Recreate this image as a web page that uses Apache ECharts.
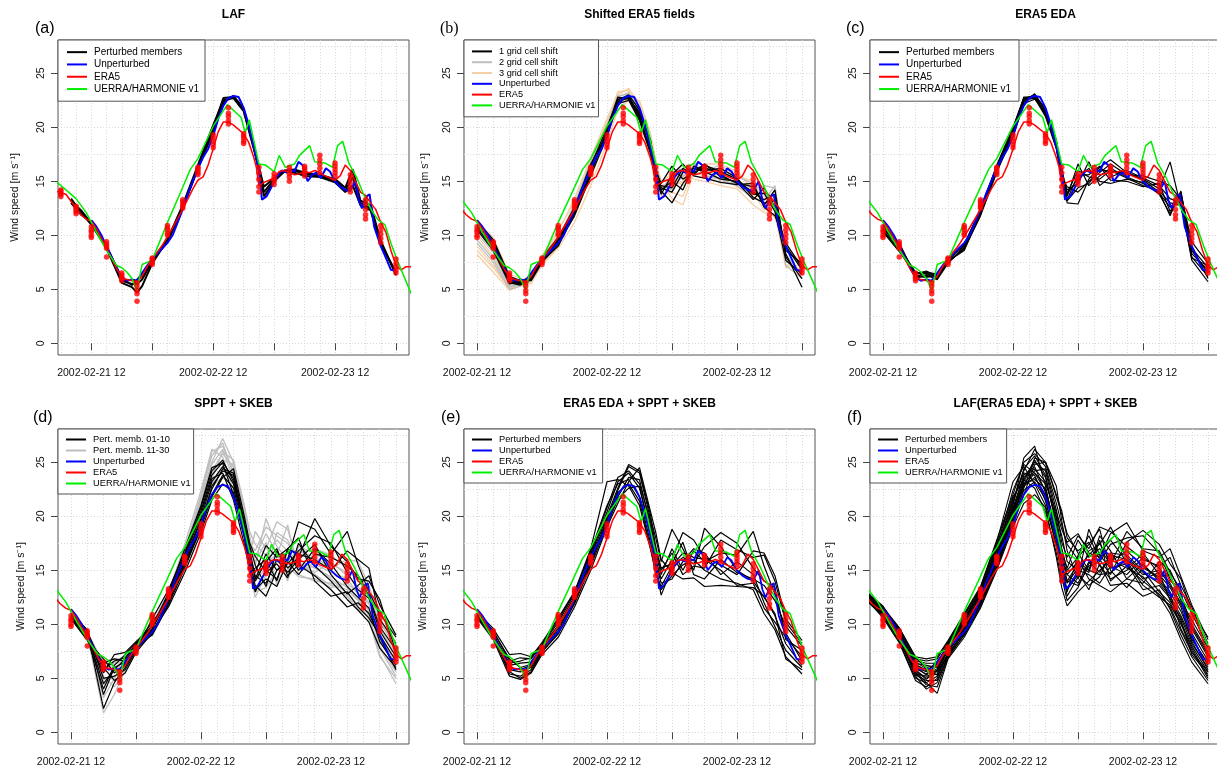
<!DOCTYPE html>
<html><head><meta charset="utf-8">
<script src="https://cdn.jsdelivr.net/npm/echarts@6/dist/echarts.min.js"></script>
<style>html,body{margin:0;padding:0;background:#fff}#c{width:1217px;height:769px}</style>
</head><body><div id="c"></div>
<script>
// ---------- DATA (hours since 2002-02-21 00 UTC, wind speed m/s) ----------
const xTickValues = [12, 24, 36, 48, 60, 72];
const xLabelValues = [12, 36, 60];
const xLabelTexts = ['2002-02-21 12', '2002-02-22 12', '2002-02-23 12'];
const xGridValues = [6, 9, 12, 15, 18, 21, 24, 27, 30, 33, 36, 39, 42, 45, 48, 51, 54, 57, 60, 63, 66, 69, 72];
const yTickValues = [0, 5, 10, 15, 20, 25];
const yGridValues = [0, 2.5, 5, 7.5, 10, 12.5, 15, 17.5, 20, 22.5, 25, 27.5];

const era5T = [5,7,9,10,11,12,13,15,17,18,19,21,22,23,24,26,28,30,32,33,34,35,36,37,38,39,40,42,43,44,44.5,45,46,47,48,49,50,51,52,53,54,55,56,57,58,59,60,61,62,63,64,65,66,67,68,69,70,71,72,73,74,75];
const era5V = [14.1,13.8,12.5,11.9,11.5,11.3,10.6,8.8,6.9,6.1,5.9,5.7,6.2,7.1,7.8,9.1,10.7,12.4,14.3,15.1,15.4,16.5,18.0,19.6,20.5,20.5,20.2,19.4,18.6,17.2,16.3,14.6,14.9,15.1,15.3,15.9,16.0,15.8,15.6,15.7,15.9,15.8,16.0,15.8,15.5,15.3,15.1,15.5,16.5,16.0,15.0,14.0,13.7,13.0,12.4,11.2,10.3,8.6,7.2,6.8,7.1,7.1];

const uerraT = [5,9,11,13,15,17,18,19,20,21,22,24,27,29.5,31.5,33,36,38.8,41.5,42.3,43.1,45,46.3,48,49,50.2,52,53,55,56,58,59.5,60.5,61.5,62.7,64.3,65.8,67.2,68.5,69.8,71.2,72.5,75];
const uerraV = [15.0,13.4,12.1,10.3,8.6,7.2,7.0,6.6,6.0,4.9,7.3,7.7,11.2,13.9,16.1,17.1,20.1,22.1,20.9,19.5,20.7,16.6,16.5,15.9,17.4,16.3,16.6,17.4,18.3,16.8,16.7,16.3,18.3,18.7,16.7,15.3,13.6,12.3,11.4,11.0,9.0,7.4,4.6];

const blueT = [12,13,14,15,16,17,18,19,20,21,22,23,24,25,26,27,28,29,30,31,32,33,34,35,36,37,38,39,40,41,42,43,44,45,45.6,46.5,47.5,48.5,49.5,50.5,51.2,52,52.8,53.6,54.6,55.5,56.3,57.2,58.2,59,60,61,62,63,64,64.7,65.3,66.2,66.8,67.7,69,70.2,71,72];
const blueV = [11.4,10.8,10.0,9.0,8.0,7.0,6.1,5.8,5.9,5.8,6.5,7.2,7.8,8.3,8.8,9.3,10.0,11.2,12.4,13.8,15.0,16.2,17.2,18.0,19.2,20.8,22.0,22.7,22.9,22.8,21.8,20.2,18.2,16.0,13.3,13.6,14.5,15.4,16.0,15.8,16.1,15.9,16.8,16.5,15.0,15.6,15.8,15.3,16.2,15.9,15.0,14.5,14.2,14.1,15.0,13.2,12.5,13.6,13.8,10.8,9.0,7.7,6.8,6.7];

// ERA5 ensemble (red dots), 3-hourly
const dotT = [6,9,12,15,18,21,24,27,30,33,36,39,42,45,48,51,54,57,60,63,66,69,72];
const dotV = [
 [13.6,13.8,13.9,14.1,14.2],[12.0,12.2,12.4,12.6,12.7],[9.8,10.0,10.3,10.5,10.8],[8.0,8.8,9.0,9.2,9.4],
 [5.8,6.0,6.1,6.3,6.5],[3.9,4.6,4.9,5.3,5.6],[7.3,7.5,7.6,7.8,7.9],[10.0,10.2,10.5,10.7,10.9],
 [12.5,12.7,12.9,13.1,13.3],[15.6,15.8,16.0,16.2,16.3],[18.1,18.4,18.7,19.0,19.3],[20.3,20.6,21.0,21.3,21.8],
 [18.5,18.7,19.0,19.2,19.4],[14.0,14.5,15.2,15.8,16.3],[14.7,15.0,15.2,15.4,15.7],[15.0,15.4,15.7,16.0,16.3],
 [15.5,15.8,16.0,16.2,16.4],[15.8,16.2,16.6,17.0,17.4],[15.5,15.8,16.1,16.4,16.7],[14.0,14.4,14.8,15.2,15.6],
 [11.5,11.9,12.4,12.9,13.3],[9.3,9.7,10.1,10.5,10.9],[6.5,6.8,7.1,7.4,7.8]
];

// member time grids
const timesA = [8,10,12,15,18,20,21,22,24,27,30,33,36,38,40,42,44,45,46,48,50,52,54,57,60,62,63.5,65,67,69,72];
const timesM = [12,15,18,20,22,24,27,30,33,36,38,40,42,44,45,46,48,50,52,54,57,60,63,65,67,69,72];
const timesF = [9,12,15,18,20,22,24,27,30,33,36,38,40,42,44,45,46,48,50,52,54,57,60,63,65,67,69,72];

// (a) LAF perturbed members
const lafMembers = [
 [13.4,12.1,11.0,8.8,5.6,5.2,4.7,5.3,7.4,9.6,12.8,16.5,20.2,22.5,22.7,21.5,18.0,16.3,14.5,15.3,16.0,16.1,15.8,15.6,15.2,14.4,16.1,13.2,12.8,9.5,6.3],
 [13.2,12.3,11.1,8.9,5.8,5.5,5.5,5.9,7.6,9.5,12.6,16.3,19.9,22.7,22.8,21.6,18.1,16.1,14.0,15.2,15.9,16.0,15.7,15.5,15.1,14.1,15.4,13.0,12.5,9.3,6.5],
 [13.0,11.9,11.2,9.0,6.0,5.4,5.9,6.2,7.7,9.4,12.5,16.2,19.6,22.3,22.9,21.7,18.3,16.0,13.6,15.0,15.9,15.8,15.5,15.4,14.9,14.0,14.6,12.8,12.3,9.1,6.6]
];
// (b) shifted ERA5 fields
const shift1 = [
 [11.2,9.4,6.0,5.6,6.0,7.7,9.5,12.2,16.0,19.6,22.6,22.8,21.2,18.6,16.2,14.4,14.0,15.8,16.2,15.9,15.2,15.0,14.0,13.3,13.8,8.3,5.2],
 [11.0,9.0,5.7,5.5,5.9,7.6,9.4,12.0,15.7,19.8,22.8,22.6,21.4,18.9,16.0,14.8,16.4,15.2,15.8,16.3,15.6,14.8,14.5,12.8,14.2,8.0,6.0],
 [10.7,8.8,5.6,5.4,6.1,7.8,9.6,12.4,16.4,20.0,22.5,23.0,21.6,18.4,15.6,14.1,13.0,14.8,16.0,16.5,15.9,15.2,13.8,13.9,12.2,7.7,6.4],
 [10.5,8.6,5.5,5.7,6.2,7.9,9.8,12.6,16.6,19.4,22.3,22.9,21.0,18.0,15.4,13.8,15.6,16.6,15.5,15.3,14.9,14.7,14.8,12.6,11.8,9.3,7.0],
 [11.3,9.6,6.2,5.8,5.8,7.5,9.2,11.8,15.5,19.2,22.2,22.5,20.6,17.6,15.0,14.2,15.0,14.2,16.4,16.0,16.2,15.3,13.5,13.0,13.2,8.6,7.4],
 [10.9,9.2,5.9,5.5,6.0,7.6,9.0,12.1,15.9,19.5,22.4,22.7,20.8,17.8,15.2,14.6,14.4,16.2,15.6,16.6,15.4,14.9,13.3,14.4,12.6,9.0,6.8]
];
const shift2 = [
 [10.2,8.4,5.3,5.4,5.9,7.6,9.6,12.7,16.5,20.1,22.9,23.1,21.9,18.8,16.4,15.0,15.2,15.4,16.4,16.2,15.8,15.1,14.3,14.6,14.4,8.2,6.4],
 [9.6,7.8,5.2,5.5,6.0,7.7,9.7,12.9,16.8,20.2,22.8,23.2,21.4,18.5,16.0,14.4,14.8,15.9,16.7,15.5,15.2,14.6,13.4,13.2,14.6,7.2,6.0],
 [10.6,8.9,5.6,5.6,6.3,7.9,9.9,12.3,16.0,19.4,22.2,22.8,21.0,17.9,15.5,14.2,15.6,16.0,15.6,16.0,16.5,15.4,14.8,12.7,12.9,9.0,7.1],
 [9.3,7.5,5.0,5.3,5.8,7.4,9.3,12.5,16.3,19.9,22.6,23.0,21.6,18.3,15.8,14.6,14.2,15.5,16.2,16.4,15.0,14.8,13.8,13.8,13.5,7.6,6.6]
];
const shift3 = [
 [8.2,6.6,4.9,5.3,5.6,7.2,9.0,12.9,17.0,20.6,23.2,23.5,22.3,19.3,16.8,15.0,13.4,12.8,15.8,16.6,16.6,15.9,14.3,14.2,13.0,7.3,6.8],
 [9.0,7.2,5.0,5.6,6.0,7.3,8.8,11.2,14.6,18.6,21.6,22.5,22.5,19.5,17.0,14.8,15.8,16.2,15.2,15.0,14.6,14.3,12.8,12.1,12.0,7.0,7.3],
 [11.3,9.8,6.4,6.0,5.5,7.8,10.3,13.4,17.2,20.8,23.0,23.6,21.8,18.7,16.5,13.6,14.5,15.0,16.5,16.2,16.0,15.5,15.0,13.0,11.6,8.8,7.5],
 [10.0,8.0,5.4,5.8,6.3,8.1,10.5,13.1,16.8,20.4,23.3,23.4,20.0,17.0,14.6,13.8,14.0,13.6,16.0,15.4,15.3,14.5,13.6,13.6,12.5,8.0,6.5],
 [8.6,7.0,5.1,5.5,5.8,7.4,9.2,12.0,15.4,19.0,22.0,22.9,21.2,18.0,15.6,14.3,15.3,14.6,16.8,15.8,14.8,16.0,14.0,12.3,13.4,9.0,7.0]
];
// (c) ERA5 EDA members
const edaMembers = [
 [10.8,8.8,6.2,6.5,6.0,7.5,8.8,12.0,16.0,19.5,22.4,23.0,21.5,18.6,15.5,13.0,12.9,15.2,16.3,17.0,15.8,15.1,14.0,11.8,14.1,8.3,6.8],
 [10.5,8.6,6.4,6.7,6.2,7.6,8.7,11.8,15.8,19.8,22.6,22.8,21.3,18.4,15.2,13.6,16.6,14.6,15.5,16.2,15.4,14.8,13.9,12.6,13.6,8.0,6.2],
 [10.2,8.9,6.6,6.4,5.9,7.4,8.9,12.2,16.2,19.3,22.3,23.1,21.6,18.8,15.8,14.2,14.8,16.8,14.6,15.4,16.0,15.3,14.6,13.4,13.0,7.7,5.7],
 [10.9,9.2,6.3,6.2,6.1,7.7,9.0,12.4,16.5,20.0,22.7,22.9,21.2,18.1,15.0,13.3,15.6,15.6,16.4,15.1,15.0,14.5,14.8,12.2,13.8,9.4,7.4],
 [10.4,8.7,6.5,6.6,6.4,7.8,9.1,12.5,16.4,19.6,22.5,22.7,21.0,18.0,15.4,14.5,14.0,15.0,15.8,16.6,15.6,15.5,15.0,14.6,13.3,8.6,6.5],
 [10.6,9.0,6.0,6.3,6.0,7.6,8.6,12.1,15.9,19.1,22.2,22.6,21.4,18.5,16.2,13.8,15.3,16.2,15.0,14.8,15.2,14.9,13.8,12.0,14.0,8.8,7.0],
 [11.0,9.3,6.2,6.1,6.3,7.9,9.2,12.3,16.1,19.4,22.6,23.0,21.7,18.7,15.6,13.2,14.4,14.8,16.1,15.9,15.8,15.2,14.3,16.8,12.6,9.0,6.0],
 [10.3,8.5,6.4,6.6,6.1,7.5,8.8,11.9,16.3,19.9,22.8,22.8,21.1,18.3,15.3,13.9,16.0,15.4,15.2,16.0,15.3,14.6,14.1,13.0,12.8,7.9,7.2]
];
// (d) SPPT + SKEB members 01-10 and 11-30
const spptA = [
 [11.3,9.4,2.2,4.6,6.0,7.8,9.5,12.8,16.4,20.5,23.8,25.0,23.5,19.0,16.5,14.2,16.5,15.0,16.0,19.5,18.8,16.5,18.6,15.5,13.0,11.0,8.8],
 [11.0,9.0,4.5,5.8,6.8,8.2,10.2,12.2,15.8,19.6,22.5,24.4,24.0,19.4,17.2,15.5,13.5,16.8,15.2,16.2,19.8,17.2,15.8,14.2,14.0,12.3,7.4],
 [10.8,8.8,5.5,7.2,7.4,8.4,9.8,12.9,17.0,21.0,24.5,24.9,22.0,18.2,15.4,13.0,15.0,14.2,16.8,15.0,17.0,15.6,13.5,12.5,11.5,8.4,6.2],
 [10.6,8.6,6.4,6.8,6.6,8.0,9.0,11.8,15.2,18.9,21.8,23.6,24.4,20.0,17.5,16.3,14.8,15.6,14.3,17.5,15.4,14.0,12.3,11.3,10.2,7.8,6.0],
 [11.2,9.2,5.0,5.2,5.8,7.6,10.5,13.2,16.6,20.8,24.2,25.2,23.2,19.2,16.0,14.8,17.3,16.2,17.0,16.5,16.0,15.0,16.8,16.0,15.2,10.5,8.2],
 [10.9,9.3,6.0,4.8,5.5,7.4,9.2,12.0,15.6,19.2,22.0,23.8,22.6,18.6,15.8,13.6,12.6,15.0,15.6,16.8,18.2,17.5,14.8,13.2,12.4,9.4,7.0],
 [10.7,8.7,4.0,6.2,7.2,8.3,9.6,12.4,16.0,19.8,23.2,24.6,23.0,18.9,15.2,14.0,15.8,17.0,14.5,15.5,14.5,13.2,11.6,12.0,11.0,8.8,5.8],
 [11.1,9.1,5.8,6.6,6.9,8.1,9.9,12.6,16.2,20.2,23.5,24.0,21.5,17.4,15.0,13.2,14.2,13.5,15.8,14.6,16.5,16.2,15.4,14.5,12.6,9.8,7.6],
 [10.5,8.5,6.8,5.5,6.3,7.9,9.4,11.6,14.8,18.5,21.5,23.0,22.2,18.0,14.8,15.2,16.0,14.0,17.0,18.0,14.0,12.6,13.0,11.6,10.6,9.0,6.6],
 [11.0,9.5,3.5,6.0,6.5,7.7,9.1,12.3,15.4,19.0,22.8,24.2,23.8,19.5,16.8,14.5,13.8,16.0,14.8,16.0,17.4,14.6,12.8,13.6,14.5,11.8,9.0]
];
const spptB = [
 [11.2,9.0,1.8,3.5,5.8,7.6,9.4,12.4,16.4,21.5,25.0,27.2,25.0,20.3,17.5,16.8,19.0,18.2,17.5,16.0,15.2,14.4,13.4,12.4,10.8,7.2,4.5],
 [10.9,8.8,4.8,5.6,6.4,8.0,9.8,12.8,16.8,22.0,26.0,26.5,24.2,19.6,16.4,18.6,17.0,19.5,18.8,15.5,14.8,15.8,14.5,13.5,12.0,8.6,5.8],
 [10.6,9.2,5.6,6.6,7.0,8.2,10.0,13.0,17.2,21.0,24.2,25.8,24.6,20.8,18.2,15.4,19.8,17.2,16.0,16.8,16.2,15.2,16.0,15.8,13.6,10.4,7.5],
 [11.0,8.6,6.6,6.8,6.8,7.8,9.2,12.0,15.8,20.4,23.0,24.6,23.6,19.0,16.0,14.2,15.8,16.4,19.2,14.6,14.0,13.8,12.6,11.4,10.6,7.8,5.2],
 [10.8,9.4,5.2,4.2,5.6,7.5,9.6,12.6,16.6,21.8,25.6,26.8,23.8,18.8,15.6,13.0,13.4,15.0,15.0,16.6,17.0,16.4,15.2,14.0,12.8,9.2,6.2],
 [11.3,9.0,6.2,6.0,6.2,7.9,9.9,12.2,16.2,20.0,22.8,23.6,22.8,19.8,17.0,15.8,17.6,13.6,16.2,15.2,15.6,14.8,14.2,12.8,11.2,8.4,6.8],
 [10.7,8.7,3.2,5.0,6.6,8.1,10.1,12.9,17.4,22.4,26.2,25.5,22.4,18.4,15.0,12.5,14.6,18.5,17.8,15.8,14.6,13.6,13.2,12.2,10.4,7.0,5.0],
 [10.5,9.1,5.8,6.4,7.1,8.3,9.5,12.5,16.0,20.6,24.0,25.2,24.8,20.0,17.2,16.2,18.4,16.6,14.0,17.2,16.6,15.6,14.8,14.6,13.0,10.0,8.4],
 [11.1,8.9,4.4,5.2,6.1,7.7,9.3,11.9,15.6,19.8,23.4,26.0,25.2,21.0,18.6,17.4,16.4,17.8,16.8,15.0,15.4,14.2,12.8,11.8,11.6,8.0,5.6],
 [10.9,9.3,6.4,6.3,6.7,8.0,9.7,12.7,16.9,21.2,24.8,26.2,23.4,19.2,16.2,14.0,15.2,15.8,15.4,14.4,14.2,13.4,13.8,12.9,11.9,9.6,7.2]
];
// (e) ERA5 EDA + SPPT + SKEB
const edaSpptMembers = [
 [11.2,9.6,7.2,7.3,7.0,8.3,10.6,13.0,17.0,23.2,23.4,22.8,21.0,17.0,15.0,13.2,14.5,15.5,16.0,15.0,14.2,13.8,13.2,11.0,9.5,7.0,5.4],
 [11.0,9.2,5.6,5.0,5.6,7.4,9.2,12.0,15.6,19.6,22.4,24.6,24.0,19.8,18.0,15.8,18.8,17.0,15.0,18.9,17.2,15.0,14.0,12.5,11.0,6.8,5.8],
 [10.8,9.0,6.2,6.4,6.5,7.8,9.8,12.5,16.4,20.4,23.2,24.0,22.6,18.8,16.0,14.2,16.0,18.5,17.8,16.2,15.5,14.6,16.8,16.6,14.5,10.5,8.5],
 [10.6,8.6,5.2,4.9,5.5,7.2,8.8,11.6,15.0,19.0,21.2,23.2,24.5,20.5,18.5,16.0,14.8,14.2,14.3,13.5,13.6,13.5,13.4,12.6,10.8,8.2,6.2],
 [11.1,9.4,6.6,6.9,6.8,8.1,10.2,12.8,16.8,21.0,23.0,23.4,21.8,17.6,15.4,12.7,15.2,16.2,15.6,17.2,18.5,17.5,15.2,14.0,13.4,8.6,7.6],
 [10.7,8.8,5.8,5.6,6.0,7.6,9.4,12.2,16.0,19.4,21.8,23.6,23.4,19.2,16.6,14.6,17.0,15.0,16.8,15.8,16.6,16.4,18.6,15.4,12.8,9.2,6.6],
 [10.9,9.3,6.8,6.0,6.3,8.0,9.9,12.6,16.2,20.0,22.6,24.8,24.2,20.2,17.2,15.2,15.6,17.6,14.6,14.2,16.0,14.8,14.2,13.6,12.2,9.8,8.0],
 [11.0,8.9,5.4,5.2,5.8,7.5,9.1,11.9,15.4,19.2,21.6,22.6,22.8,18.2,15.8,13.8,14.2,15.8,17.0,16.6,14.6,15.8,14.6,12.0,9.8,7.6,6.0],
 [10.6,9.1,6.4,6.6,6.9,8.2,10.4,13.0,16.6,20.8,23.6,24.2,23.0,19.6,16.8,15.0,16.6,14.6,15.4,15.2,17.8,16.9,16.2,16.4,14.0,10.2,8.2],
 [10.8,9.0,6.0,5.8,6.2,7.7,9.6,12.3,15.8,19.8,22.2,23.0,21.4,17.2,14.6,13.5,15.4,16.6,16.2,16.0,15.0,13.6,13.8,11.5,10.2,8.8,7.0]
];
// (f) LAF(ERA5 EDA) + SPPT + SKEB
const lafSpptMembers = [
 [12.8,11.5,9.6,6.8,6.6,6.8,8.4,10.8,13.4,17.6,23.2,24.6,23.0,21.0,17.4,15.0,13.8,15.2,16.4,17.5,15.8,16.8,15.4,14.2,13.0,11.2,8.8,6.2],
 [12.4,11.0,8.8,5.2,4.0,4.6,7.0,9.0,11.6,15.2,19.2,22.0,24.8,25.0,21.8,20.2,18.4,16.6,15.0,14.6,14.8,16.0,14.6,15.0,13.6,12.0,10.0,7.4],
 [12.9,11.7,9.4,6.2,5.8,5.6,7.8,10.2,12.8,16.6,21.0,25.4,26.5,22.8,18.2,15.8,12.6,14.4,18.8,16.4,15.2,15.6,13.2,13.6,12.4,10.4,7.2,5.4],
 [12.2,10.8,8.4,5.0,4.6,5.2,7.2,9.4,12.0,15.6,19.8,23.0,24.2,24.4,20.6,17.6,16.2,18.2,17.0,19.0,18.6,17.2,16.0,15.4,16.2,13.6,11.6,8.2],
 [12.6,11.2,9.0,5.8,5.0,5.8,7.6,9.8,12.4,16.0,20.4,23.4,25.2,23.6,19.4,16.4,14.0,13.6,15.4,15.8,17.4,18.0,18.2,16.6,14.2,12.6,9.2,6.6],
 [13.0,11.6,9.7,7.0,6.8,7.0,8.5,11.0,13.5,17.8,22.0,25.0,25.8,24.6,21.2,19.2,17.4,16.0,14.2,13.6,13.0,14.2,15.6,14.0,12.8,9.6,7.6,5.0],
 [12.5,11.0,8.6,5.6,4.6,3.6,6.8,8.8,11.5,15.0,19.0,21.2,22.0,20.8,16.2,13.4,11.7,13.0,14.0,15.0,16.0,15.2,14.4,12.6,11.0,8.6,6.5,4.5],
 [12.3,10.6,8.3,4.8,4.2,5.0,7.4,9.6,12.2,15.8,20.0,22.8,23.6,22.0,18.6,16.8,15.2,17.8,16.2,17.0,15.6,18.6,17.0,16.8,14.8,13.2,11.0,8.0],
 [12.7,11.4,9.2,6.4,6.2,6.0,8.0,10.4,13.0,16.8,21.4,24.2,26.2,25.0,22.0,20.5,18.0,16.8,17.6,15.4,14.2,15.0,16.6,14.6,13.4,11.6,8.4,5.8],
 [12.4,11.1,8.9,5.4,5.2,5.4,7.3,9.2,11.9,15.4,19.6,22.4,23.2,21.6,17.2,14.8,13.2,14.6,13.6,14.4,16.6,16.4,15.0,13.0,12.0,10.2,8.0,5.6],
 [12.9,11.3,9.5,6.6,6.4,6.4,8.2,10.6,13.2,17.2,22.4,24.8,24.0,22.4,18.8,16.6,14.6,15.8,15.0,18.2,16.8,14.2,13.8,15.8,15.0,12.8,9.8,7.2],
 [12.3,10.9,8.5,5.5,4.4,4.2,6.9,9.1,11.8,15.3,19.4,22.6,25.4,25.0,22.8,19.6,16.8,14.2,16.8,17.4,19.0,16.2,14.8,13.8,12.6,10.8,8.6,6.4],
 [12.6,11.4,9.3,6.0,5.6,6.6,7.9,10.0,12.6,16.4,20.8,23.8,24.6,22.2,18.0,15.6,13.0,16.4,18.2,16.0,14.6,17.6,18.7,17.4,15.6,14.2,11.2,8.8],
 [12.8,11.6,9.1,6.5,5.9,5.3,7.7,10.3,12.9,17.0,21.6,24.0,23.8,21.4,17.8,14.4,12.2,13.4,15.6,16.6,17.8,15.8,13.6,12.5,11.8,10.0,7.8,5.2],
 [12.5,11.2,8.7,5.3,4.8,4.8,7.1,9.3,12.1,15.8,20.2,23.2,25.0,24.2,20.0,18.2,15.8,15.0,14.6,13.8,15.4,14.6,16.2,15.2,13.8,11.8,9.6,7.0],
 [12.2,10.7,8.6,5.9,5.4,6.2,7.5,9.7,12.3,16.2,20.6,23.6,24.4,23.2,19.8,17.0,15.0,16.2,17.4,18.8,15.0,13.4,15.2,14.4,14.6,12.2,10.4,7.8],
 [12.7,11.5,9.6,6.9,6.0,6.2,8.3,10.9,13.3,17.4,21.8,23.4,22.6,20.4,16.6,14.0,13.4,14.8,13.2,15.6,13.6,13.8,12.6,13.2,11.4,9.0,7.0,4.8],
 [12.4,11.0,8.8,5.7,4.9,5.7,7.0,9.5,12.5,16.2,20.2,22.8,24.0,23.0,20.4,18.8,17.6,18.4,16.6,16.2,18.4,19.4,16.8,16.2,17.0,14.4,11.8,8.6],
 [12.9,11.6,9.4,6.3,5.7,6.3,8.1,10.5,13.1,16.9,21.2,24.4,25.6,23.8,19.0,16.0,14.6,13.8,15.8,14.8,16.4,16.0,14.2,14.8,12.2,10.6,8.2,6.0],
 [12.5,11.3,9.0,6.1,5.3,5.9,7.6,9.9,12.7,16.5,20.6,23.0,23.4,22.6,18.4,15.4,14.0,15.6,14.8,17.8,14.0,15.4,14.0,12.8,11.6,9.4,7.4,5.6]
];

// ---------- LAYOUT / STYLE ----------
const FONT = '"Liberation Sans", Arial, Helvetica, sans-serif';
const C = {black:'#000000', grey:'#bebebe', tan:'#f5cfa6', blue:'#0000ff', red:'#ff0000', green:'#00ee00'};

const panels = [
 {tag:'(a)', title:'LAF', left:58, top:40, xMin:5.44, xMax:74.56, nameGap:37, tagX:35, tagSerif:false,
  legendNames:['Perturbed members','Unperturbed','ERA5','UERRA/HARMONIE v1'], lgFont:10, lgLine:12.3, lgPad:[6,6,6,9]},
 {tag:'(b)', title:'Shifted ERA5 fields', left:464, top:40, xMin:9.6, xMax:74.4, nameGap:33, tagX:440, tagSerif:true,
  legendNames:['1 grid cell shift','2 grid cell shift','3 grid cell shift','Unperturbed','ERA5','UERRA/HARMONIE v1'], lgFont:9.2, lgLine:10.8, lgPad:[6,3,6,8]},
 {tag:'(c)', title:'ERA5 EDA', left:870, top:40, xMin:9.6, xMax:74.4, nameGap:32, tagX:846, tagSerif:false,
  legendNames:['Perturbed members','Unperturbed','ERA5','UERRA/HARMONIE v1'], lgFont:10, lgLine:12.3, lgPad:[6,8,6,9]},
 {tag:'(d)', title:'SPPT + SKEB', left:58, top:429, xMin:9.6, xMax:74.4, nameGap:31, tagX:33, tagSerif:false,
  legendNames:['Pert. memb. 01-10','Pert. memb. 11-30','Unperturbed','ERA5','UERRA/HARMONIE v1'], lgFont:9.3, lgLine:11, lgPad:[5,3,5,8]},
 {tag:'(e)', title:'ERA5 EDA + SPPT + SKEB', left:464, top:429, xMin:9.6, xMax:74.4, nameGap:35, tagX:441, tagSerif:false,
  legendNames:['Perturbed members','Unperturbed','ERA5','UERRA/HARMONIE v1'], lgFont:9.3, lgLine:11, lgPad:[5,6,5,8]},
 {tag:'(f)', title:'LAF(ERA5 EDA) + SPPT + SKEB', left:870, top:429, xMin:9.6, xMax:74.4, nameGap:34, tagX:847, tagSerif:false,
  legendNames:['Perturbed members','Unperturbed','ERA5','UERRA/HARMONIE v1'], lgFont:9.3, lgLine:11, lgPad:[5,4,5,8]}
];
const GW = 351, GH = 315, YMIN = -1.08, YMAX = 28.08;

function pairs(ts, vs) { const n = Math.min(ts.length, vs.length); const out = []; for (let i = 0; i < n; i++) out.push([ts[i], vs[i]]); return out; }

const grids = [], xAxes = [], yAxes = [], series = [], legends = [], graphics = [];

function line(gi, name, ts, vs, color, width) {
  series.push({type:'line', name, data:pairs(ts, vs), xAxisIndex:2*gi, yAxisIndex:2*gi,
    symbol:'none', showSymbol:false, color, itemStyle:{color}, lineStyle:{color, width},
    silent:true, animation:false, clip:true, z:2});
}
function common(gi, blueW) {
  line(gi, 'Unperturbed', blueT, blueV, C.blue, blueW);
  line(gi, 'ERA5', era5T, era5V, C.red, 1.5);
  line(gi, 'UERRA/HARMONIE v1', uerraT, uerraV, C.green, 1.5);
  const pts = [];
  dotT.forEach((t, i) => dotV[i].forEach(v => pts.push([t, v])));
  series.push({type:'scatter', name:'ERA5 ensemble', data:pts, xAxisIndex:2*gi, yAxisIndex:2*gi,
    symbol:'circle', symbolSize:5.5, itemStyle:{color:C.red}, silent:true, animation:false, clip:true, z:3});
}

panels.forEach((p, gi) => {
  grids.push({left:p.left, top:p.top, width:GW, height:GH, show:true, borderColor:'#555', borderWidth:1,
    backgroundColor:'rgba(0,0,0,0)', containLabel:false, outerBoundsMode:'none'});
  xAxes.push({gridIndex:gi, type:'value', min:p.xMin, max:p.xMax, position:'bottom',
    axisLine:{show:false},
    axisTick:{show:true, inside:false, length:7, customValues:xTickValues, lineStyle:{color:'#444', width:1}},
    axisLabel:{show:true, customValues:xLabelValues, margin:13, fontSize:10.5, fontFamily:FONT, color:'#111',
      formatter: v => { const k = xLabelValues.indexOf(v); return k >= 0 ? xLabelTexts[k] : ''; }},
    splitLine:{show:false}});
  xAxes.push({gridIndex:gi, type:'value', min:p.xMin, max:p.xMax, position:'top',
    axisLine:{show:false}, axisTick:{show:false, customValues:xGridValues}, axisLabel:{show:false},
    splitLine:{show:true, lineStyle:{color:'#d8d8d8', width:1, type:[1,2]}}});
  yAxes.push({gridIndex:gi, type:'value', min:YMIN, max:YMAX, position:'left',
    axisLine:{show:false},
    axisTick:{show:true, inside:false, length:7, customValues:yTickValues, lineStyle:{color:'#444', width:1}},
    axisLabel:{show:true, customValues:yTickValues, rotate:90, margin:11, fontSize:10.5, fontFamily:FONT, color:'#111'},
    splitLine:{show:false},
    name:'Wind speed [m s\u207B\u00B9]', nameLocation:'middle', nameGap:p.nameGap, nameRotate:90,
    nameTextStyle:{fontSize:10.5, fontFamily:FONT, color:'#111'}});
  yAxes.push({gridIndex:gi, type:'value', min:YMIN, max:YMAX, position:'right',
    axisLine:{show:false}, axisTick:{show:false, customValues:yGridValues}, axisLabel:{show:false},
    splitLine:{show:true, lineStyle:{color:'#d8d8d8', width:1, type:[1,2]}}});
  legends.push({data:p.legendNames, orient:'vertical', left:p.left, top:p.top, icon:'rect',
    itemWidth:20, itemHeight:2, itemGap:0, padding:p.lgPad, backgroundColor:'#ffffff',
    borderColor:'#555', borderWidth:1, borderRadius:0, selectedMode:false, z:10,
    textStyle:{fontSize:p.lgFont, lineHeight:p.lgLine, fontFamily:FONT, color:'#000', padding:[0,0,0,2]}});
  graphics.push({type:'text', x:p.left + GW/2, y:p.top - 25, silent:true, z:20,
    style:{text:p.title, font:'bold 12px ' + FONT, fill:'#000', align:'center', verticalAlign:'middle', textAlign:'center', textVerticalAlign:'middle'}});
  graphics.push({type:'text', x:p.tagX, y:p.top - 11, silent:true, z:20,
    style:{text:p.tag, font:'16px ' + (p.tagSerif ? '"Liberation Serif", "DejaVu Serif", serif' : FONT), fill:'#000',
      align:'left', verticalAlign:'middle', textAlign:'left', textVerticalAlign:'middle'}});
});

// panel series
lafMembers.forEach(m => line(0, 'Perturbed members', timesA, m, C.black, 2));
common(0, 2);

shift3.forEach(m => line(1, '3 grid cell shift', timesM, m, C.tan, 1.3));
shift2.forEach(m => line(1, '2 grid cell shift', timesM, m, C.grey, 1.3));
shift1.forEach(m => line(1, '1 grid cell shift', timesM, m, C.black, 1.3));
common(1, 2);

edaMembers.forEach(m => line(2, 'Perturbed members', timesM, m, C.black, 1.2));
common(2, 2);

spptB.forEach(m => line(3, 'Pert. memb. 11-30', timesM, m, C.grey, 1.3));
spptA.forEach(m => line(3, 'Pert. memb. 01-10', timesM, m, C.black, 1.2));
common(3, 1.8);

edaSpptMembers.forEach(m => line(4, 'Perturbed members', timesM, m, C.black, 1.2));
common(4, 1.8);

lafSpptMembers.forEach(m => line(5, 'Perturbed members', timesF, m, C.black, 1.1));
common(5, 1.8);

const chart = echarts.init(document.getElementById('c'), null, {renderer:'canvas'});
chart.setOption({
  animation:false, backgroundColor:'#ffffff',
  grid:grids, xAxis:xAxes, yAxis:yAxes, legend:legends, series, graphic:graphics,
  tooltip:{show:false}
});
</script>
</body></html>
